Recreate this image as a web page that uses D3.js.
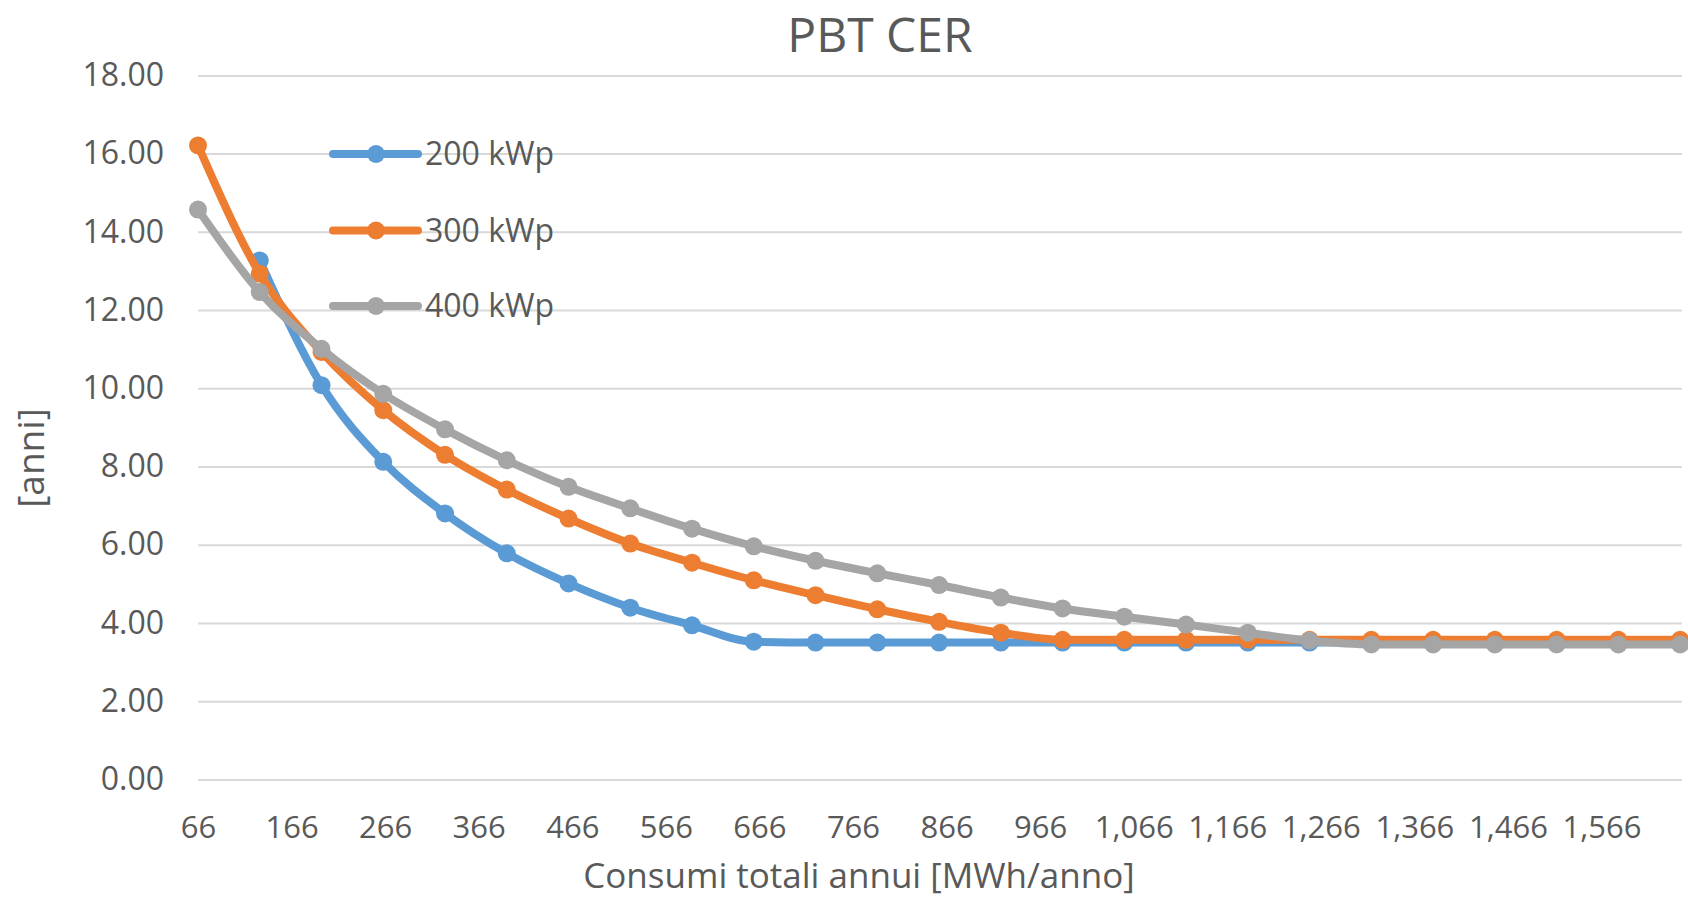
<!DOCTYPE html>
<html>
<head>
<meta charset="utf-8">
<script src="https://cdn.jsdelivr.net/npm/d3@7"></script>
<style>
  body { margin: 0; background: #fff; }
  svg { display: block; font-family: "Open Sans", sans-serif; }
</style>
</head>
<body>
<div id="chart"></div>
<script>
// consumi totali annui [MWh/anno]
var consumi = [66, 132, 198, 264, 330, 396, 462, 528, 594, 660, 726, 792, 858, 924, 990,
               1056, 1122, 1188, 1254, 1320, 1386, 1452, 1518, 1584, 1650];

// PBT [anni] per taglia impianto
var kwp200 = [null, 13.27, 10.08, 8.12, 6.80, 5.78, 5.01, 4.39, 3.94, 3.52, 3.50, 3.50, 3.50,
              3.50, 3.50, 3.50, 3.50, 3.50, 3.50, 3.50, 3.50, 3.50, 3.50, 3.50, 3.50];
var kwp300 = [16.21, 12.93, 10.93, 9.44, 8.30, 7.41, 6.67, 6.03, 5.54, 5.09, 4.71, 4.35, 4.03,
              3.75, 3.57, 3.57, 3.57, 3.57, 3.57, 3.57, 3.57, 3.57, 3.57, 3.57, 3.57];
var kwp400 = [14.57, 12.46, 11.01, 9.86, 8.95, 8.16, 7.48, 6.93, 6.41, 5.96, 5.59, 5.27, 4.97,
              4.65, 4.37, 4.16, 3.96, 3.75, 3.55, 3.45, 3.45, 3.45, 3.45, 3.45, 3.45];

var seriesNames = ["200 kWp", "300 kWp", "400 kWp"];
var colors = ["#5B9BD5", "#ED7D31", "#A5A5A5"];

var xTicks = [66, 166, 266, 366, 466, 566, 666, 766, 866, 966, 1066, 1166, 1266, 1366, 1466, 1566];
var yTicks = [0, 2, 4, 6, 8, 10, 12, 14, 16, 18];

var W = 1688, H = 902;
var plotLeft = 198, plotRight = 1682, plotTop = 75.4, plotBottom = 779.4;

var svg = d3.select("#chart").append("svg")
    .attr("width", W)
    .attr("height", H);

var x = d3.scaleLinear().domain([66, 1652]).range([plotLeft, plotRight]);
var y = d3.scaleLinear().domain([0, 18]).range([plotBottom, plotTop]);

// gridlines + y labels
var gy = svg.append("g")
    .attr("transform", "translate(" + plotLeft + ",0)")
    .call(d3.axisLeft(y)
      .tickValues(yTicks)
      .tickFormat(d3.format(".2f"))
      .tickSize(-(plotRight - plotLeft))
      .tickPadding(34));
gy.attr("font-family", null).attr("font-size", null);
gy.select(".domain").remove();
gy.selectAll(".tick line").attr("stroke", "#D9D9D9").attr("stroke-width", 2);
gy.selectAll(".tick text")
    .attr("fill", "#595959")
    .style("font-size", "32px");

// x labels
var gx = svg.append("g")
    .attr("transform", "translate(0," + plotBottom + ")")
    .call(d3.axisBottom(x)
      .tickValues(xTicks)
      .tickFormat(d3.format(","))
      .tickSize(0));
gx.attr("font-family", null).attr("font-size", null);
gx.select(".domain").remove();
gx.selectAll(".tick text")
    .attr("y", 48)
    .attr("dy", "0.35em")
    .attr("fill", "#595959")
    .style("font-size", "31px");

var data = [kwp200, kwp300, kwp400];

var line = d3.line()
    .defined(function(d) { return d != null; })
    .x(function(d, i) { return x(consumi[i]); })
    .y(function(d) { return y(d); })
    .curve(d3.curveMonotoneX);

data.forEach(function(s, k) {
  var g = svg.append("g");
  g.append("path")
    .datum(s)
    .attr("fill", "none")
    .attr("stroke", colors[k])
    .attr("stroke-width", 8)
    .attr("stroke-linejoin", "round")
    .attr("stroke-linecap", "round")
    .attr("d", line);
  g.selectAll("circle")
    .data(s.map(function(v, i) { return {x: consumi[i], v: v}; })
           .filter(function(d) { return d.v != null; }))
    .enter().append("circle")
      .attr("cx", function(d) { return x(d.x); })
      .attr("cy", function(d) { return y(d.v); })
      .attr("r", 9)
      .attr("fill", colors[k]);
});

// legend
var legendY = [154, 230.5, 306];
var leg = svg.append("g");
seriesNames.forEach(function(name, k) {
  leg.append("line")
    .attr("x1", 333).attr("x2", 418)
    .attr("y1", legendY[k]).attr("y2", legendY[k])
    .attr("stroke", colors[k])
    .attr("stroke-width", 8)
    .attr("stroke-linecap", "round");
  leg.append("circle")
    .attr("cx", 376).attr("cy", legendY[k])
    .attr("r", 9)
    .attr("fill", colors[k]);
  leg.append("text")
    .attr("x", 425).attr("y", legendY[k])
    .attr("dy", "0.35em")
    .attr("fill", "#595959")
    .style("font-size", "32px")
    .text(name);
});

// titles
svg.append("text")
  .attr("x", 880).attr("y", 35)
  .attr("dy", "0.35em")
  .attr("text-anchor", "middle")
  .attr("fill", "#595959")
  .style("font-size", "48px")
  .text("PBT CER");

svg.append("text")
  .attr("x", 859).attr("y", 876)
  .attr("dy", "0.35em")
  .attr("text-anchor", "middle")
  .attr("fill", "#595959")
  .style("font-size", "35px")
  .text("Consumi totali annui [MWh/anno]");

svg.append("text")
  .attr("transform", "translate(31,458) rotate(-90)")
  .attr("dy", "0.35em")
  .attr("text-anchor", "middle")
  .attr("fill", "#595959")
  .style("font-size", "37px")
  .text("[anni]");
</script>
</body>
</html>
